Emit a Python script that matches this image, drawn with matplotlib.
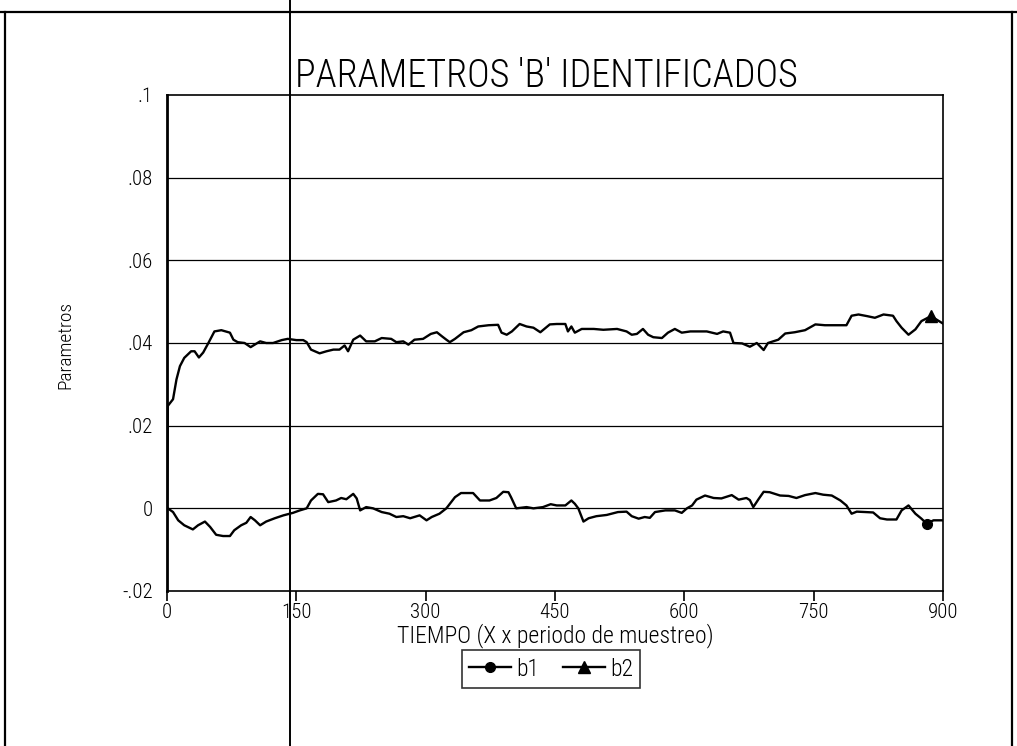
import matplotlib
matplotlib.use("Agg")
import matplotlib.pyplot as plt
from matplotlib import font_manager
from matplotlib.lines import Line2D

# ---- data -------------------------------------------------------------
t_b2 = [0, 1, 7, 11, 15, 20, 28, 32, 37, 42,
        48, 55, 63, 73, 77, 82, 90, 97, 108, 115,
        123, 133, 140, 150, 158, 162, 167, 177, 185, 193,
        200, 206, 210, 216, 224, 231, 241, 249, 260, 266,
        274, 280, 287, 297, 306, 313, 319, 324, 328, 334,
        344, 353, 361, 373, 384, 388, 394, 400, 409, 417,
        425, 433, 444, 452, 462, 465, 469, 473, 481, 495,
        506, 522, 533, 539, 545, 552, 558, 564, 574, 581,
        589, 597, 607, 614, 626, 638, 645, 653, 657, 667,
        676, 684, 692, 697, 709, 717, 728, 740, 752, 763,
        775, 788, 794, 802, 812, 821, 831, 842, 846, 852,
        860, 868, 875, 886, 900]
b2 = [0.0, 0.0248, 0.0264, 0.0312, 0.0344, 0.0364, 0.0380, 0.0380, 0.0365, 0.0377,
      0.0400, 0.0428, 0.0431, 0.0425, 0.0408, 0.0402, 0.0400, 0.0390, 0.0404, 0.0400,
      0.0400, 0.0407, 0.0410, 0.0407, 0.0407, 0.0402, 0.0384, 0.0375, 0.0380, 0.0384,
      0.0384, 0.0394, 0.0380, 0.0408, 0.0418, 0.0404, 0.0404, 0.0412, 0.0410, 0.0402,
      0.0404, 0.0396, 0.0408, 0.0410, 0.0422, 0.0426, 0.0416, 0.0408, 0.0402, 0.0410,
      0.0426, 0.0431, 0.0440, 0.0443, 0.0444, 0.0425, 0.0420, 0.0428, 0.0446, 0.0440,
      0.0437, 0.0426, 0.0445, 0.0446, 0.0446, 0.0428, 0.0440, 0.0425, 0.0434, 0.0434,
      0.0432, 0.0434, 0.0428, 0.0420, 0.0422, 0.0434, 0.0420, 0.0414, 0.0412, 0.0425,
      0.0434, 0.0425, 0.0428, 0.0428, 0.0428, 0.0422, 0.0428, 0.0425, 0.0400, 0.0399,
      0.0391, 0.0400, 0.0383, 0.0400, 0.0408, 0.0423, 0.0426, 0.0431, 0.0445, 0.0443,
      0.0443, 0.0443, 0.0466, 0.0469, 0.0465, 0.0461, 0.0469, 0.0466, 0.0453, 0.0437,
      0.0420, 0.0433, 0.0453, 0.0465, 0.0447]

t_b1 = [0, 1, 7, 13, 20, 30, 36, 44, 50, 57,
        65, 73, 78, 86, 92, 97, 102, 108, 115, 125,
        135, 146, 154, 162, 167, 175, 181, 187, 196, 202,
        208, 216, 220, 224, 231, 239, 249, 258, 266, 274,
        282, 293, 301, 307, 316, 324, 334, 341, 355, 363,
        374, 382, 390, 396, 399, 405, 417, 425, 436, 445,
        452, 462, 469, 473, 477, 483, 489, 498, 510, 523,
        533, 539, 547, 554, 560, 566, 578, 589, 597, 603,
        609, 614, 624, 634, 643, 655, 663, 672, 676, 680,
        686, 692, 699, 711, 721, 730, 740, 752, 761, 771,
        781, 788, 794, 800, 810, 819, 827, 835, 846, 852,
        860, 868, 875, 881, 889, 900]
b1 = [0.0, 0.0, -0.0009, -0.0029, -0.0041, -0.0051, -0.0041, -0.0032, -0.0045, -0.0064,
      -0.0067, -0.0067, -0.0053, -0.0041, -0.0035, -0.0021, -0.0029, -0.0041, -0.0032, -0.0024,
      -0.0017, -0.0011, -0.0005, 0.0000, 0.0019, 0.0035, 0.0034, 0.0015, 0.0019, 0.0025,
      0.0022, 0.0035, 0.0024, -0.0005, 0.0003, 0.0000, -0.0009, -0.0013, -0.0021, -0.0019,
      -0.0024, -0.0017, -0.0029, -0.0021, -0.0013, 0.0000, 0.0027, 0.0037, 0.0037, 0.0019,
      0.0019, 0.0025, 0.0040, 0.0039, 0.0027, 0.0000, 0.0003, 0.0000, 0.0003, 0.0010,
      0.0007, 0.0007, 0.0019, 0.0011, 0.0000, -0.0032, -0.0024, -0.0019, -0.0016, -0.0009,
      -0.0008, -0.0019, -0.0025, -0.0021, -0.0023, -0.0009, -0.0005, -0.0005, -0.0011, 0.0000,
      0.0007, 0.0021, 0.0031, 0.0025, 0.0024, 0.0032, 0.0021, 0.0025, 0.0020, 0.0003,
      0.0022, 0.0040, 0.0039, 0.0031, 0.0030, 0.0025, 0.0032, 0.0037, 0.0033, 0.0031,
      0.0019, 0.0007, -0.0013, -0.0008, -0.0009, -0.0010, -0.0024, -0.0027, -0.0027, -0.0005,
      0.0007, -0.0013, -0.0025, -0.0037, -0.0029, -0.0029]

x_ticks = [0, 150, 300, 450, 600, 750, 900]
y_ticks = [-0.02, 0.0, 0.02, 0.04, 0.06, 0.08, 0.1]
y_tick_labels = ["-.02", "0", ".02", ".04", ".06", ".08", ".1"]

title = "PARAMETROS 'B' IDENTIFICADOS"
x_label = "TIEMPO (X x periodo de muestreo)"
y_label = "Parametros"

# ---- fonts ------------------------------------------------------------
available = {f.name for f in font_manager.fontManager.ttflist}
family = "DejaVu Sans"
for cand in ["Roboto Condensed", "Liberation Sans Narrow", "DejaVu Sans Condensed"]:
    if cand in available:
        family = cand
        break
plt.rcParams["font.family"] = [family, "DejaVu Sans"]
plt.rcParams["font.weight"] = "light"

# ---- figure -----------------------------------------------------------
W, H = 1017, 746
fig = plt.figure(figsize=(W / 100, H / 100), dpi=100)
fig.patch.set_facecolor("white")

left, right, top, bottom = 167, 943, 95, 591
ax = fig.add_axes([left / W, 1 - bottom / H, (right - left) / W, (bottom - top) / H])

ax.set_xlim(0, 900)
ax.set_ylim(-0.02, 0.1)

for yv in y_ticks[1:-1]:
    ax.axhline(yv, color="black", lw=0.9, zorder=1)

ax.plot(t_b1, b1, color="black", lw=1.7, marker="o", markersize=7,
        markevery=[113], label="b1", zorder=3)
ax.plot(t_b2, b2, color="black", lw=1.7, marker="^", markersize=8,
        markevery=[113], label="b2", zorder=3)

ax.set_xticks(x_ticks)
ax.set_xticklabels([str(v) for v in x_ticks], fontsize=15)
ax.set_yticks(y_ticks)
ax.set_yticklabels(y_tick_labels, fontsize=15)
ax.tick_params(axis="x", direction="out", length=7, width=1.2, pad=2)
ax.tick_params(axis="y", length=0, pad=10)

for s in ax.spines.values():
    s.set_color("black")
    s.set_linewidth(1.2)
ax.spines["left"].set_linewidth(2.0)

fig.text(546 / W, 1 - 76 / H, title, ha="center", va="center", fontsize=27.5)
fig.text(555 / W, 1 - 636 / H, x_label, ha="center", va="center", fontsize=17)
fig.text(65 / W, 1 - 345 / H, y_label, ha="center", va="center", fontsize=14,
         rotation=90)

leg = fig.legend(loc="center", bbox_to_anchor=(551 / W, 1 - 669 / H), ncol=2,
                 fontsize=17, frameon=True, fancybox=False, handlelength=1.8,
                 handletextpad=0.2, columnspacing=1.0, borderpad=0.3,
                 edgecolor="black")
leg.get_frame().set_linewidth(1.2)

# page border and fold line
fig.add_artist(Line2D([0, 1], [1 - 11.5 / H, 1 - 11.5 / H], color="black", lw=1.6,
                      transform=fig.transFigure))
fig.add_artist(Line2D([5 / W, 5 / W], [0, 1 - 11.5 / H], color="black", lw=1.6,
                      transform=fig.transFigure))
fig.add_artist(Line2D([1012 / W, 1012 / W], [0, 1 - 11.5 / H], color="black", lw=1.6,
                      transform=fig.transFigure))
fig.add_artist(Line2D([289.5 / W, 289.5 / W], [0, 1], color="black", lw=1.4,
                      transform=fig.transFigure, zorder=5))

fig.savefig("out.png", dpi=100, facecolor="white")
